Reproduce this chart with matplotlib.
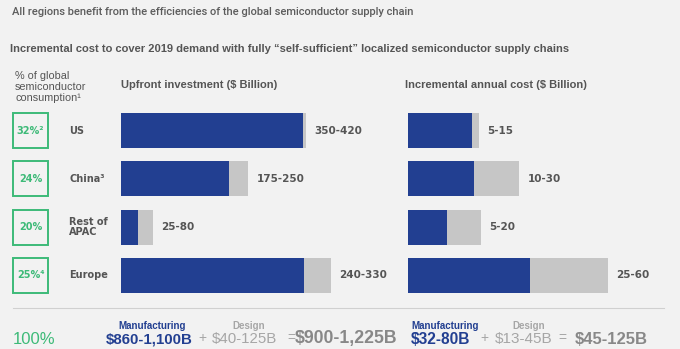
import matplotlib.pyplot as plt
from matplotlib import transforms
from matplotlib.lines import Line2D

W, H = 680, 349
BG = '#f2f2f2'
BLUE = '#223f91'
GREYBAR = '#c6c6c6'
GREEN = '#3dba78'
DARK = '#555555'
LIGHT = '#a6a6a6'

# data
regions = ['US', 'China³', 'Rest of\nAPAC', 'Europe']
share = ['32%²', '24%', '20%', '25%⁴']
# bar lengths (manufacturing part and total incl. design)
upfront_mfg = [182, 108, 17, 183]
upfront_total = [185, 127, 32, 210]
upfront_labels = ['350-420', '175-250', '25-80', '240-330']
annual_mfg = [64, 66, 39, 122]
annual_total = [71, 111, 73, 200]
annual_labels = ['5-15', '10-30', '5-20', '25-60']

def px(x, y):
    return x / W, 1 - y / H

fig = plt.figure(figsize=(6.8, 3.49), dpi=100, facecolor=BG)

bar_h = 35 / 48
ypos = list(range(len(regions)))
top, bot = 113, 293

def bar_axes(left, width):
    ax = fig.add_axes([left / W, 1 - bot / H, width / W, (bot - top) / H])
    ax.set_xlim(0, width)
    ax.set_ylim(ypos[-1] + bar_h / 2, -bar_h / 2)
    ax.axis('off')
    return ax

ax1 = bar_axes(121, 260)
ax2 = bar_axes(408, 260)
axb = bar_axes(13, 35)
axb.set_xlim(0, 1)

for ax, mfg, tot, labs in [(ax1, upfront_mfg, upfront_total, upfront_labels),
                           (ax2, annual_mfg, annual_total, annual_labels)]:
    ax.barh(ypos, tot, height=bar_h, color=GREYBAR)
    ax.barh(ypos, mfg, height=bar_h, color=BLUE)
    for y, t, l in zip(ypos, tot, labs):
        ax.annotate(l, (t, y), xytext=(6, 0), textcoords='offset points',
                    va='center', ha='left', fontsize=7.5, fontweight='bold',
                    color=DARK, family='DejaVu Sans')

axb.barh(ypos, [1] * len(ypos), height=bar_h, fill=False, edgecolor=GREEN,
         linewidth=1.4, clip_on=False)
for y, s in zip(ypos, share):
    axb.text(0.5, y, s, ha='center', va='center', fontsize=7,
             fontweight='bold', color=GREEN, family='DejaVu Sans')

tr = transforms.blended_transform_factory(fig.transFigure, axb.transData)
for y, r in zip(ypos, regions):
    fig.text(69 / W, y, r, transform=tr, ha='left', va='center', fontsize=7,
             fontweight='bold', color=DARK, family='DejaVu Sans',
             linespacing=1.05)

# titles
fig.text(*px(12, 12), 'All regions benefit from the efficiencies of the global semiconductor supply chain',
         ha='left', va='center', fontsize=8, fontweight='medium', color='#5c5c5c',
         family='Roboto')
fig.text(*px(10, 49), 'Incremental cost to cover 2019 demand with fully “self-sufficient” localized semiconductor supply chains',
         ha='left', va='center', fontsize=8, fontweight='bold', color=DARK,
         family='Liberation Sans')
fig.text(*px(15, 87), '% of global\nsemiconductor\nconsumption¹', ha='left', va='center',
         fontsize=7.8, color=DARK, family='Liberation Sans', linespacing=1.12)
fig.text(*px(121, 85), 'Upfront investment ($ Billion)', ha='left', va='center',
         fontsize=8, fontweight='bold', color=DARK, family='Liberation Sans')
fig.text(*px(405, 85), 'Incremental annual cost ($ Billion)', ha='left', va='center',
         fontsize=8, fontweight='bold', color=DARK, family='Liberation Sans')

fig.add_artist(Line2D([13 / W, 664 / W], [1 - 308 / H] * 2, transform=fig.transFigure,
                      color='#d0d0d0', linewidth=0.8))

# bottom totals
fig.text(*px(13, 340), '100%', ha='left', va='center', fontsize=12, color=GREEN,
         family='Liberation Sans')

bottom = [
    (118, 326, 'Manufacturing', 7, 'bold', BLUE),
    (106, 339, '$860-1,100B', 10.8, 'bold', BLUE),
    (198, 338, '+', 10, 'normal', LIGHT),
    (232, 326, 'Design', 7, 'bold', LIGHT),
    (212, 339, '$40-125B', 10.8, 'normal', LIGHT),
    (287, 338, '=', 10, 'normal', LIGHT),
    (295, 339, '$900-1,225B', 12.7, 'bold', '#888888'),
    (411, 326, 'Manufacturing', 7, 'bold', BLUE),
    (411, 339, '$32-80B', 11.2, 'bold', BLUE),
    (480, 338, '+', 10, 'normal', LIGHT),
    (512, 326, 'Design', 7, 'bold', LIGHT),
    (495, 339, '$13-45B', 11, 'normal', LIGHT),
    (558, 338, '=', 10, 'normal', LIGHT),
    (575, 339, '$45-125B', 12, 'bold', '#888888'),
]
for x, y, s, fs, fw, c in bottom:
    fig.text(*px(x, y), s, ha='left', va='center', fontsize=fs, fontweight=fw,
             color=c, family='Liberation Sans')

fig.savefig('out.png', dpi=100, facecolor=BG)
